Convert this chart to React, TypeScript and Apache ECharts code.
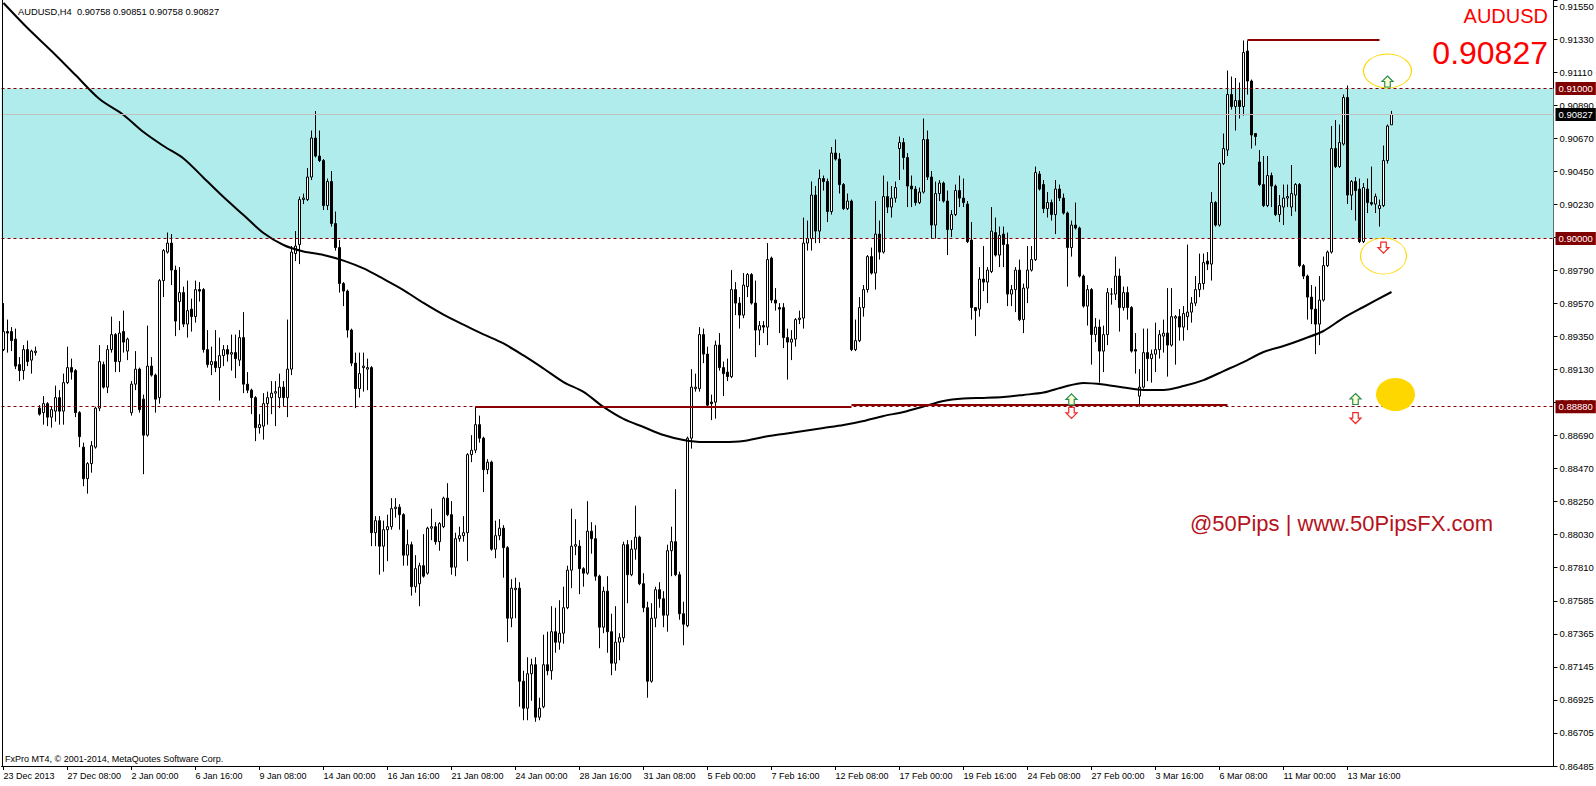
import React, { useEffect, useRef } from 'react';
import * as echarts from 'echarts';

const FONT = '"Liberation Sans", Arial, sans-serif';

const symbolName = 'AUDUSD';
const timeframe = 'H4';

// x-axis labels, one every 16 bars
const timeLabels = [
  '23 Dec 2013', '27 Dec 08:00', '2 Jan 00:00', '6 Jan 16:00', '9 Jan 08:00', '14 Jan 00:00',
  '16 Jan 16:00', '21 Jan 08:00', '24 Jan 00:00', '28 Jan 16:00', '31 Jan 08:00', '5 Feb 00:00',
  '7 Feb 16:00', '12 Feb 08:00', '17 Feb 00:00', '19 Feb 16:00', '24 Feb 08:00', '27 Feb 00:00',
  '3 Mar 16:00', '6 Mar 08:00', '11 Mar 00:00', '13 Mar 16:00',
];
const labelEvery = 16;
const slotCount = 388; // bars + right chart shift

// price scale labels (bottom to top)
const priceTickLabels = [
  '0.86485', '0.86705', '0.86925', '0.87145', '0.87365', '0.87585', '0.87810', '0.88030',
  '0.88250', '0.88470', '0.88690', '0.88910', '0.89130', '0.89350', '0.89570', '0.89790',
  '0.90010', '0.90230', '0.90450', '0.90670', '0.90890', '0.91110', '0.91330', '0.91550',
];
const axisMin = 0.86485;
const axisMax = 0.9159;
const tickStep = (0.9155 - 0.86485) / 23;

// H4 bars: [open, close, low, high]
const candles: number[][] = [
  [.8926,.8938,.8925,.8957],[.8938,.8937,.8924,.8946],[.8938,.8932,.8925,.8941],[.8933,.8915,.8913,.8940],
  [.8916,.8912,.8905,.8921],[.8912,.8926,.8906,.8929],[.8926,.8918,.8915,.8932],[.8919,.8925,.8910,.8926],
  [.8924,.8925,.8922,.8928],[.8887,.8883,.8882,.8889],[.8884,.8890,.8876,.8895],[.8890,.8881,.8875,.8891],
  [.8881,.8886,.8874,.8888],[.8885,.8894,.8878,.8902],[.8894,.8885,.8876,.8899],[.8885,.8904,.8876,.8910],
  [.8904,.8914,.8903,.8928],[.8914,.8911,.8906,.8920],[.8912,.8884,.8881,.8913],[.8884,.8868,.8861,.8885],
  [.8861,.8840,.8835,.8864],[.8840,.8850,.8830,.8851],[.8850,.8862,.8844,.8865],[.8861,.8887,.8860,.8888],
  [.8887,.8918,.8885,.8929],[.8916,.8901,.8900,.8918],[.8901,.8926,.8897,.8929],[.8926,.8936,.8924,.8948],
  [.8936,.8918,.8911,.8937],[.8918,.8937,.8911,.8945],[.8938,.8931,.8924,.8952],[.8925,.8933,.8919,.8934],
  [.8884,.8903,.8882,.8905],[.8903,.8913,.8899,.8925],[.8913,.8886,.8884,.8914],[.8893,.8869,.8843,.8896],
  [.8869,.8915,.8868,.8942],[.8915,.8909,.8908,.8921],[.8909,.8893,.8884,.8910],[.8894,.8972,.8890,.8973],
  [.8972,.8992,.8961,.8993],[.8991,.8997,.8990,.9004],[.8997,.8979,.8969,.9003],[.8979,.8945,.8935,.8982],
  [.8958,.8964,.8939,.8981],[.8964,.8943,.8941,.8968],[.8943,.8952,.8934,.8972],[.8953,.8948,.8938,.8960],
  [.8948,.8966,.8944,.8972],[.8966,.8965,.8958,.8971],[.8966,.8926,.8924,.8967],[.8926,.8916,.8914,.8939],
  [.8916,.8918,.8909,.8928],[.8918,.8914,.8911,.8939],[.8914,.8922,.8892,.8934],[.8922,.8926,.8915,.8929],
  [.8926,.8923,.8918,.8929],[.8923,.8924,.8912,.8936],[.8924,.8920,.8907,.8936],[.8919,.8934,.8915,.8939],
  [.8934,.8903,.8897,.8951],[.8903,.8899,.8897,.8911],[.8899,.8894,.8883,.8900],[.8894,.8874,.8865,.8895],
  [.8874,.8876,.8870,.8883],[.8875,.8890,.8866,.8897],[.8890,.8894,.8876,.8898],[.8894,.8897,.8883,.8905],
  [.8897,.8898,.8875,.8905],[.8894,.8901,.8887,.8910],[.8901,.8894,.8888,.8905],[.8894,.8913,.8881,.8946],
  [.8913,.8991,.8909,.8995],[.8990,.8995,.8985,.9005],[.8996,.9026,.8983,.9028],[.9026,.9027,.9023,.9030],
  [.9026,.9041,.9025,.9047],[.9041,.9067,.9039,.9072],[.9067,.9055,.9054,.9085],[.9055,.9052,.9051,.9072],
  [.9052,.9022,.9019,.9053],[.9022,.9038,.9019,.9040],[.9038,.9010,.9008,.9045],[.9010,.8994,.8992,.9018],
  [.8994,.8970,.8964,.8999],[.8970,.8965,.8955,.8971],[.8965,.8939,.8934,.8966],[.8939,.8917,.8915,.8940],
  [.8917,.8900,.8887,.8924],[.8900,.8910,.8894,.8924],[.8914,.8915,.8898,.8924],[.8913,.8914,.8899,.8920],
  [.8914,.8804,.8795,.8915],[.8804,.8812,.8795,.8815],[.8812,.8795,.8776,.8815],[.8795,.8806,.8778,.8812],
  [.8806,.8808,.8785,.8816],[.8808,.8820,.8806,.8827],[.8820,.8821,.8814,.8827],[.8821,.8816,.8806,.8823],
  [.8816,.8789,.8782,.8817],[.8789,.8796,.8782,.8806],[.8796,.8768,.8762,.8798],[.8768,.8780,.8764,.8789],
  [.8770,.8782,.8755,.8784],[.8782,.8775,.8774,.8803],[.8777,.8807,.8776,.8808],[.8807,.8808,.8799,.8820],
  [.8808,.8798,.8796,.8811],[.8798,.8810,.8792,.8811],[.8808,.8827,.8807,.8828],[.8827,.8816,.8815,.8837],
  [.8816,.8781,.8776,.8825],[.8781,.8800,.8775,.8804],[.8800,.8802,.8798,.8808],[.8802,.8804,.8798,.8815],
  [.8804,.8856,.8785,.8857],[.8856,.8859,.8851,.8869],[.8859,.8876,.8857,.8888],[.8876,.8867,.8864,.8882],
  [.8867,.8846,.8831,.8868],[.8846,.8851,.8843,.8853],[.8851,.8793,.8792,.8852],[.8793,.8802,.8787,.8812],
  [.8802,.8807,.8799,.8813],[.8807,.8794,.8774,.8809],[.8794,.8747,.8731,.8795],[.8747,.8767,.8741,.8773],
  [.8766,.8767,.8747,.8774],[.8767,.8705,.8688,.8771],[.8705,.8687,.8679,.8712],[.8687,.8710,.8679,.8721],
  [.8710,.8716,.8692,.8720],[.8716,.8681,.8678,.8721],[.8681,.8687,.8679,.8694],[.8688,.8716,.8687,.8736],
  [.8716,.8712,.8709,.8738],[.8712,.8738,.8706,.8755],[.8738,.8731,.8724,.8754],[.8731,.8737,.8726,.8759],
  [.8737,.8754,.8730,.8768],[.8754,.8779,.8753,.8782],[.8779,.8795,.8767,.8820],[.8795,.8796,.8789,.8813],
  [.8795,.8780,.8763,.8799],[.8780,.8777,.8768,.8781],[.8777,.8805,.8776,.8825],[.8805,.8800,.8790,.8811],
  [.8800,.8775,.8772,.8809],[.8775,.8741,.8727,.8776],[.8741,.8765,.8737,.8768],[.8765,.8738,.8724,.8775],
  [.8738,.8717,.8709,.8750],[.8717,.8731,.8712,.8755],[.8731,.8734,.8719,.8737],[.8734,.8796,.8731,.8798],
  [.8796,.8776,.8757,.8799],[.8776,.8793,.8775,.8799],[.8793,.8801,.8786,.8822],[.8801,.8770,.8769,.8802],
  [.8770,.8754,.8751,.8777],[.8754,.8705,.8694,.8758],[.8705,.8747,.8704,.8757],[.8747,.8766,.8741,.8768],
  [.8766,.8760,.8754,.8771],[.8760,.8749,.8741,.8765],[.8749,.8792,.8738,.8796],[.8792,.8798,.8775,.8808],
  [.8798,.8776,.8775,.8833],[.8776,.8750,.8746,.8778],[.8750,.8743,.8729,.8758],[.8742,.8867,.8741,.8868],
  [.8867,.8901,.8860,.8913],[.8900,.8901,.8898,.8910],[.8900,.8936,.8898,.8941],[.8936,.8923,.8917,.8940],
  [.8923,.8889,.8888,.8928],[.8891,.8890,.8879,.8896],[.8891,.8929,.8880,.8932],[.8929,.8914,.8912,.8937],
  [.8914,.8910,.8895,.8918],[.8911,.8908,.8905,.8920],[.8908,.8966,.8907,.8979],[.8966,.8957,.8949,.8971],
  [.8957,.8949,.8940,.8961],[.8949,.8969,.8947,.8977],[.8968,.8976,.8961,.8977],[.8976,.8957,.8956,.8977],
  [.8957,.8939,.8921,.8972],[.8939,.8942,.8929,.8945],[.8942,.8941,.8937,.8945],[.8941,.8986,.8929,.8997],
  [.8987,.8959,.8957,.8988],[.8959,.8957,.8952,.8967],[.8954,.8953,.8937,.8957],[.8954,.8934,.8927,.8957],
  [.8934,.8931,.8906,.8940],[.8931,.8933,.8919,.8939],[.8933,.8946,.8928,.8947],[.8946,.8947,.8943,.8952],
  [.8947,.8997,.8940,.9014],[.8997,.9000,.8992,.9012],[.9000,.9029,.8992,.9038],[.9029,.9005,.8997,.9035],
  [.9005,.9040,.8997,.9046],[.9040,.9038,.9032,.9042],[.9038,.9018,.9011,.9040],[.9018,.9057,.9016,.9061],
  [.9057,.9053,.9052,.9066],[.9053,.9036,.9030,.9057],[.9036,.9020,.9019,.9037],[.9020,.9025,.9019,.9030],
  [.9025,.8926,.8925,.9026],[.8926,.8932,.8925,.8946],[.8932,.8954,.8931,.8961],[.8954,.8966,.8948,.8969],
  [.8966,.8988,.8964,.8989],[.8988,.8977,.8976,.8994],[.8977,.9003,.8966,.9025],[.9003,.8991,.8986,.9012],
  [.8991,.9028,.8990,.9042],[.9028,.9021,.9017,.9038],[.9021,.9027,.9014,.9035],[.9027,.9034,.9024,.9038],
  [.9060,.9064,.9039,.9068],[.9064,.9054,.9046,.9067],[.9054,.9035,.9021,.9057],[.9035,.9033,.9021,.9042],
  [.9033,.9024,.9022,.9035],[.9024,.9031,.9023,.9034],[.9031,.9066,.9030,.9080],[.9066,.9041,.9039,.9072],
  [.9041,.9009,.9000,.9045],[.9009,.9030,.9000,.9038],[.9030,.9037,.9025,.9039],[.9037,.9025,.9024,.9038],
  [.9025,.9006,.8989,.9032],[.9006,.9016,.9001,.9019],[.9016,.9032,.9015,.9036],[.9032,.9027,.9021,.9042],
  [.9027,.9024,.9021,.9040],[.9023,.8998,.8997,.9025],[.8999,.8954,.8946,.9011],[.8954,.8952,.8935,.8954],
  [.8953,.8973,.8948,.8981],[.8973,.8971,.8965,.8995],[.8971,.8979,.8957,.8981],[.8978,.9005,.8977,.9021],
  [.9004,.8989,.8988,.9014],[.8989,.9002,.8981,.9008],[.9003,.8996,.8981,.9008],[.8996,.8963,.8955,.9004],
  [.8963,.8966,.8955,.8969],[.8966,.8979,.8951,.8981],[.8979,.8946,.8945,.8986],[.8946,.8967,.8937,.8970],
  [.8967,.8979,.8957,.8995],[.8979,.8986,.8978,.8995],[.8986,.9044,.8985,.9048],[.9043,.9033,.9032,.9045],
  [.9036,.9020,.9017,.9039],[.9020,.9024,.9014,.9031],[.9024,.9016,.9012,.9026],[.9016,.9033,.9003,.9039],
  [.9033,.9027,.9025,.9036],[.9027,.9017,.9016,.9030],[.9017,.8994,.8968,.9018],[.8994,.9009,.8988,.9012],
  [.9009,.9007,.9006,.9024],[.9007,.8975,.8974,.9008],[.8975,.8955,.8954,.8976],[.8955,.8966,.8942,.8969],
  [.8966,.8936,.8916,.8967],[.8936,.8941,.8931,.8947],[.8941,.8925,.8904,.8946],[.8925,.8936,.8911,.8942],
  [.8936,.8964,.8929,.8967],[.8963,.8963,.8956,.8967],[.8963,.8975,.8959,.8988],[.8975,.8954,.8938,.8980],
  [.8954,.8964,.8952,.8968],[.8964,.8954,.8946,.8968],[.8954,.8925,.8924,.8955],[.8926,.8925,.8910,.8937],
  [.8895,.8901,.8888,.8913],[.8901,.8924,.8900,.8940],[.8924,.8920,.8905,.8940],[.8920,.8923,.8904,.8926],
  [.8923,.8926,.8911,.8944],[.8926,.8936,.8920,.8939],[.8935,.8937,.8924,.8946],[.8937,.8929,.8908,.8967],
  [.8929,.8948,.8928,.8967],[.8947,.8948,.8916,.8949],[.8948,.8941,.8932,.8953],[.8941,.8950,.8932,.8955],
  [.8948,.8951,.8939,.8996],[.8951,.8957,.8944,.8961],[.8957,.8966,.8955,.8975],[.8966,.8970,.8961,.8990],
  [.8970,.8984,.8966,.8990],[.8985,.8983,.8979,.8991],[.8983,.9024,.8972,.9031],[.9024,.9009,.9008,.9025],
  [.9009,.9050,.9008,.9051],[.9050,.9060,.9049,.9070],[.9059,.9096,.9055,.9112],[.9096,.9088,.9086,.9108],
  [.9088,.9092,.9072,.9107],[.9092,.9088,.9080,.9104],[.9088,.9124,.9082,.9132],[.9125,.9105,.9096,.9132],
  [.9105,.9069,.9060,.9106],[.9070,.9068,.9062,.9070],[.9051,.9036,.9035,.9059],[.9036,.9022,.9021,.9055],
  [.9022,.9042,.9021,.9055],[.9042,.9035,.9021,.9044],[.9035,.9016,.9015,.9036],[.9016,.9022,.9011,.9029],
  [.9021,.9027,.9009,.9036],[.9027,.9028,.9021,.9036],[.9021,.9030,.9015,.9049],[.9029,.9036,.9018,.9037],
  [.9036,.8982,.8981,.9037],[.8982,.8975,.8973,.8983],[.8975,.8961,.8946,.8976],[.8961,.8953,.8943,.8969],
  [.8953,.8943,.8923,.8968],[.8943,.8959,.8929,.8975],[.8959,.8982,.8958,.8988],[.8982,.8991,.8981,.8992],
  [.8991,.9060,.8990,.9075],[.9060,.9048,.9047,.9079],[.9048,.9064,.9047,.9076],[.9063,.9094,.9062,.9096],
  [.9094,.9029,.9023,.9102],[.9029,.9038,.9019,.9039],[.9038,.9032,.9012,.9041],[.9033,.8998,.8997,.9040],
  [.8998,.9034,.8997,.9037],[.9033,.9024,.9017,.9040],[.9024,.9023,.9022,.9048],[.9023,.9028,.9017,.9030],
  [.9020,.9022,.9008,.9026],[.9022,.9052,.9021,.9062],[.9052,.9075,.9050,.9076],[.90758,.90827,.90758,.90851],
];

// moving average, read at bar indices: [bar, value]
const maPoints: number[][] = [
  [0,.9157],[6,.91403],[12,.9125],[18,.9109],[24,.9093],[30,.90824],[35,.9071],[40,.90617],[45,.90534],
  [50,.90406],[55,.90277],[60,.90157],[65,.90037],[70,.89957],[75,.89914],[80,.89891],[85,.89853],
  [90,.89801],[95,.89731],[100,.89657],[105,.89571],[110,.89493],[115,.89426],[120,.89362],[125,.89301],
  [130,.89221],[135,.89134],[140,.89044],[145,.88978],[150,.88878],[155,.88798],[160,.88744],[165,.88691],
  [170,.88658],[175,.88644],[180,.88644],[185,.88651],[190,.88678],[195,.88698],[200,.88718],[205,.88738],
  [210,.88758],[215,.88784],[220,.88818],[225,.88844],[230,.88881],[235,.88918],[240,.88934],[245,.88938],
  [250,.88944],[255,.88958],[260,.88974],[265,.89011],[270,.89038],[275,.89028],[280,.89008],[285,.88991],
  [290,.88991],[295,.89017],[300,.89057],[305,.89117],[310,.89177],[315,.89244],[320,.89284],[325,.89331],
  [330,.89384],[335,.89471],[340,.89544],[347,.89644],
];

// horizontal levels
const zoneLow = 0.9;
const zoneHigh = 0.91;
const supportLevel = 0.8888;
const bidPrice = 0.90827;
// trend line segments: [fromBar, toBar, price]
const supportSegments = [[118, 212, 0.88882], [212, 306, 0.88891]];
const highSegments = [[311, 344, 0.91323]];

// annotation markers: [bar, price, (w, h)]
const ellipseMarks = [[346, 0.91117, 48, 34], [345, 0.89884, 46, 36]];
const dotMarks = [[348, 0.88961, 39, 33]];
const upArrows = [[346, 0.91047], [338, 0.88931], [267, 0.88928]];
const downArrows = [[345, 0.8994], [338, 0.88804], [267, 0.88838]];

const UP_PATH = 'path://M5,0 L10,5.5 L7.5,5.5 L7.5,11 L2.5,11 L2.5,5.5 L0,5.5 Z';
const DOWN_PATH = 'path://M2.5,0 L7.5,0 L7.5,5.5 L10,5.5 L5,11 L0,5.5 L2.5,5.5 Z';

export default function App() {
  const ref = useRef<HTMLDivElement>(null);

  useEffect(() => {
    document.body.style.margin = '0';
    const chart = echarts.init(ref.current as HTMLDivElement, undefined, { renderer: 'svg' });

    const slots = Array.from({ length: slotCount }, (_, i) => String(i));
    const showTick = (index: number) => index % labelEvery === 0 && index / labelEvery < timeLabels.length;
    const last = candles[candles.length - 1];
    const fmt = (v: number) => v.toFixed(5);

    const levelLine = (value: number, color: string, type: any, bg: string) => ({
      yAxis: value,
      lineStyle: { color, type, width: 1 },
      label: {
        show: true,
        position: 'end',
        distance: 2,
        formatter: fmt(value),
        color: '#ffffff',
        backgroundColor: bg,
        padding: [2, 3, 1, 3],
        fontSize: 9.5,
        fontFamily: FONT,
      },
    });

    const segLines = (segs: number[][]) =>
      segs.map((s) => [
        { coord: [String(s[0]), s[2]], lineStyle: { color: '#8B0000', width: 2, type: 'solid' }, label: { show: false } },
        { coord: [String(s[1]), s[2]] },
      ]);

    const option: any = {
      animation: false,
      backgroundColor: '#ffffff',
      grid: { left: 1.5, right: 42.5, top: 0, bottom: 20, containLabel: false, outerBoundsMode: 'none' },
      xAxis: {
        type: 'category',
        data: slots,
        boundaryGap: true,
        axisLine: { show: true, lineStyle: { color: '#000', width: 1 } },
        axisTick: { show: true, alignWithLabel: true, interval: showTick, length: 4, lineStyle: { color: '#000' } },
        axisLabel: {
          interval: showTick,
          formatter: (v: string) => {
            const i = parseInt(v, 10);
            return i % labelEvery === 0 ? timeLabels[i / labelEvery] || '' : '';
          },
          align: 'left',
          margin: 5,
          color: '#000',
          fontSize: 9,
          fontFamily: FONT,
        },
        splitLine: { show: false },
      },
      yAxis: {
        type: 'value',
        position: 'right',
        min: axisMin,
        max: axisMax,
        interval: tickStep,
        splitLine: { show: false },
        axisLine: { show: true, lineStyle: { color: '#000', width: 1 } },
        axisTick: { show: true, length: 4, lineStyle: { color: '#000' } },
        axisLabel: {
          margin: 6,
          color: '#000',
          fontSize: 9.5,
          fontFamily: FONT,
          formatter: (v: number) => {
            const k = Math.round((v - axisMin) / tickStep);
            if (k < 0 || k >= priceTickLabels.length) return '';
            return Math.abs(axisMin + k * tickStep - v) < 1e-5 ? priceTickLabels[k] : '';
          },
        },
      },
      graphic: [
        { type: 'line', silent: true, z: 10, shape: { x1: 2.5, y1: 0, x2: 2.5, y2: 766 }, style: { stroke: '#000', lineWidth: 1 } },
        {
          type: 'text', silent: true, z: 10, x: 18, y: 11.5,
          style: {
            text: `${symbolName},${timeframe}  ${fmt(last[0])} ${fmt(last[3])} ${fmt(last[2])} ${fmt(last[1])}`,
            font: `9.3px ${FONT}`, fill: '#000', textVerticalAlign: 'middle',
          },
        },
        {
          type: 'text', silent: true, z: 10, x: 1548, y: 16,
          style: { text: symbolName, font: `20px ${FONT}`, fill: '#FF0000', textAlign: 'right', textVerticalAlign: 'middle' },
        },
        {
          type: 'text', silent: true, z: 10, x: 1548, y: 53,
          style: { text: fmt(last[1]), font: `32px ${FONT}`, fill: '#FF0000', textAlign: 'right', textVerticalAlign: 'middle' },
        },
        {
          type: 'text', silent: true, z: 10, x: 1190, y: 523,
          style: { text: '@50Pips | www.50PipsFX.com', font: `22px ${FONT}`, fill: '#B5121B', textVerticalAlign: 'middle' },
        },
        {
          type: 'text', silent: true, z: 10, x: 5, y: 758.5,
          style: { text: 'FxPro MT4, © 2001-2014, MetaQuotes Software Corp.', font: `9px ${FONT}`, fill: '#000', textVerticalAlign: 'middle' },
        },
      ],
      series: [
        {
          name: 'levels',
          type: 'line',
          data: [],
          z: 1,
          clip: false,
          silent: true,
          markArea: {
            silent: true,
            itemStyle: { color: '#B0ECEC', opacity: 1 },
            label: { show: false },
            data: [[{ yAxis: zoneLow }, { yAxis: zoneHigh }]],
          },
          markLine: {
            silent: true,
            symbol: ['none', 'none'],
            precision: 5,
            data: [
              levelLine(bidPrice, '#C0C0C0', 'solid', '#000000'),
              levelLine(zoneHigh, '#800000', [3, 3], '#800000'),
              levelLine(zoneLow, '#800000', [3, 3], '#800000'),
              levelLine(supportLevel, '#800000', [3, 3], '#800000'),
              ...segLines(supportSegments),
              ...segLines(highSegments),
            ],
          },
          markPoint: {
            silent: true,
            label: { show: false },
            data: [
              ...ellipseMarks.map((m) => ({
                coord: [m[0], m[1]], symbol: 'circle', symbolSize: [m[2], m[3]],
                itemStyle: { color: 'rgba(0,0,0,0)', borderColor: '#FFD700', borderWidth: 1 },
              })),
              ...dotMarks.map((m) => ({
                coord: [m[0], m[1]], symbol: 'circle', symbolSize: [m[2], m[3]],
                itemStyle: { color: '#FFD700' },
              })),
              ...upArrows.map((m) => ({
                coord: [m[0], m[1]], symbol: UP_PATH, symbolSize: [11, 11],
                itemStyle: { color: '#FFFFD0', borderColor: '#2A8C5A', borderWidth: 1.2 },
              })),
              ...downArrows.map((m) => ({
                coord: [m[0], m[1]], symbol: DOWN_PATH, symbolSize: [11, 11],
                itemStyle: { color: '#FFFFFF', borderColor: '#F02828', borderWidth: 1.2 },
              })),
            ],
          },
        },
        {
          name: 'AUDUSD',
          type: 'candlestick',
          z: 2,
          barWidth: 2,
          large: false,
          data: candles,
          itemStyle: {
            color: '#FFFFFF',
            color0: '#000000',
            borderColor: '#000000',
            borderColor0: '#000000',
            borderColorDoji: '#000000',
            borderWidth: 1,
          },
        },
        {
          name: 'MA',
          type: 'line',
          z: 3,
          data: maPoints.map((p) => [String(p[0]), p[1]]),
          symbol: 'none',
          smooth: 0.3,
          lineStyle: { color: '#000000', width: 2 },
        },
      ],
    };

    chart.setOption(option);
    return () => chart.dispose();
  }, []);

  return (
    <div
      ref={ref}
      style={{ position: 'absolute', left: 0, top: 0, width: 1596, height: 786, background: '#ffffff' }}
    />
  );
}
